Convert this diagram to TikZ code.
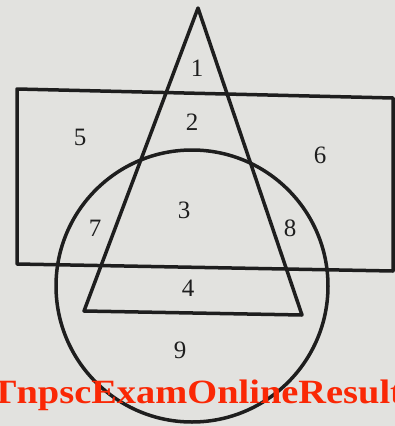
\documentclass[tikz,border=0pt]{standalone}
\usepackage{fontspec}
\setmainfont{Liberation Serif}
\usepackage{tikz}
\definecolor{PaperGray}{RGB}{226, 226, 223}
\definecolor{InkDark}  {RGB}{30,   30,  30}
\definecolor{MarkRed}  {RGB}{250,  40,   5}

\begin{document}
\begin{tikzpicture}[x=1pt, y=-1pt, line width=3.5pt, line join=round,
    region/.style={font=\fontsize{25}{25}\selectfont, text=InkDark}]
        \useasboundingbox (0,0) rectangle (395,426);
        \fill[PaperGray] (0,0) rectangle (395,426);
        \clip (0,0) rectangle (395,426);

        % the three sets
        \draw[InkDark] (17,89) -- (393,98) -- (393,271) -- (17,264) -- cycle;
        \draw[InkDark] (192,286) circle (136);
        \draw[InkDark] (198,8) -- (302,315) -- (84,311) -- cycle;

        % regions
        \node[region] (r1) at (197,68)  {1};
        \node[region] (r2) at (192,122) {2};
        \node[region] (r3) at (184,210) {3};
        \node[region] (r4) at (188,288) {4};
        \node[region] (r5) at (80,137)  {5};
        \node[region] (r6) at (320,155) {6};
        \node[region] (r7) at (95,228)  {7};
        \node[region] (r8) at (290,228) {8};
        \node[region] (r9) at (180,350) {9};

        \node[text=MarkRed, xscale=1.13, font=\fontsize{34}{34}\selectfont\bfseries] (mark) at (197,395)
          {TnpscExamOnlineResult};
      \end{tikzpicture}
\end{document}
